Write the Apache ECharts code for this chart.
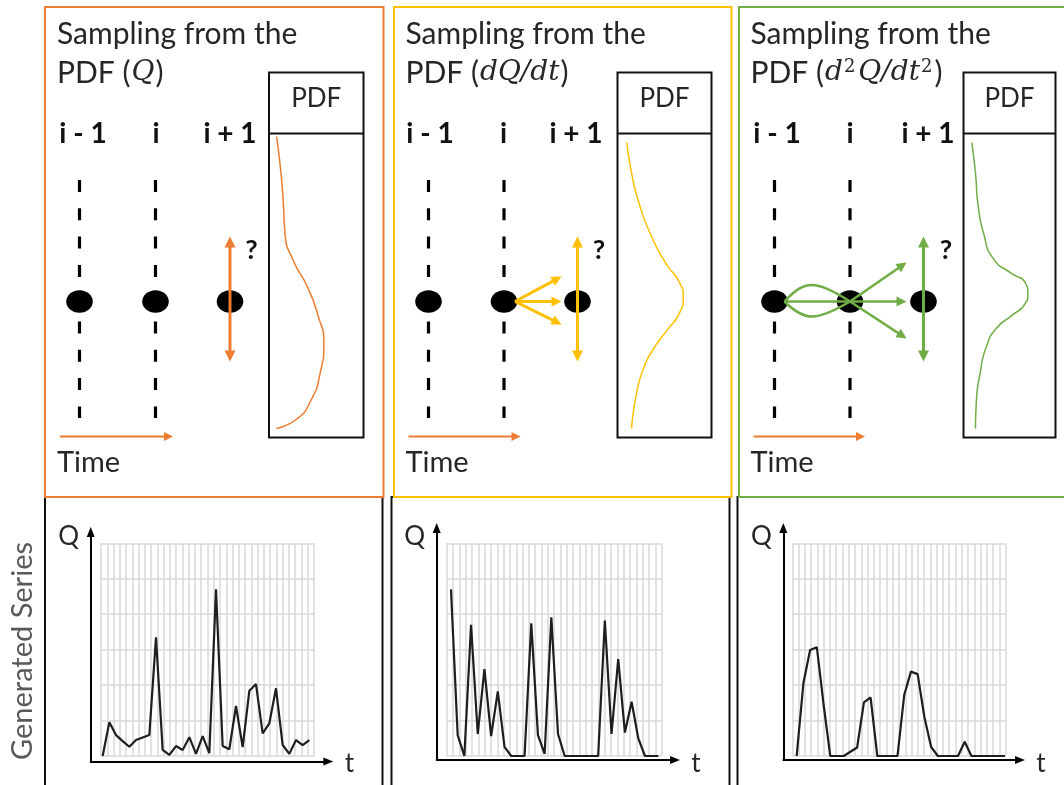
<!DOCTYPE html>
<html>
<head>
<meta charset="utf-8">
<script src="https://cdn.jsdelivr.net/npm/echarts@6/dist/echarts.min.js"></script>
<style>
  html, body { margin: 0; padding: 0; background: #fff; }
  #chart { width: 1064px; height: 785px; }
</style>
</head>
<body>
<div id="chart"></div>
<script>
// ---- Generated series: one value per time step (t = 0 .. 31) ----
const seriesQ   = [0, 9.5, 5.9, 4.2, 2.6, 4.5, 5.2, 5.9, 33.5, 1.7, 0.3, 2.8, 1.7, 5.3, 0.6, 5.6,
                   0.8, 47.0, 2.8, 1.9, 14.1, 2.5, 18.4, 20.3, 6.4, 9.2, 19.1, 3.1, 0.6, 4.5, 3.1, 4.5];
const seriesDQ  = [47.0, 5.9, 0, 37.0, 6.2, 24.5, 5.6, 18.2, 2.6, 0, 0, 0, 37.4, 5.9, 0.6, 39.1,
                   6.2, 0, 0, 0, 0, 0, 0, 38.2, 6.2, 27.3, 6.6, 15.3, 5.0, 0, 0, 0];
const seriesD2Q = [0, 20.5, 29.9, 30.7, 14.6, 0, 0, 0, 1.2, 2.4, 15.1, 16.5, 0, 0, 0, 0,
                   17.2, 23.8, 23.1, 11.0, 2.6, 0, 0, 0, 0, 4.0, 0, 0, 0, 0, 0, 0];

// ---- PDF shapes: density at each Q level (Q: 0 = bottom, 1 = top of the box) ----
const pdfQLevels      = [0.99, 0.89, 0.78, 0.67, 0.58, 0.50, 0.40, 0.31, 0.21, 0.12, 0.06, 0.03];
const pdfQDensity     = [0.08, 0.12, 0.15, 0.17, 0.26, 0.40, 0.52, 0.58, 0.54, 0.44, 0.29, 0.08];
const pdfDQLevels     = [0.97, 0.87, 0.78, 0.67, 0.57, 0.51, 0.46, 0.41, 0.35, 0.29, 0.23, 0.14, 0.03];
const pdfDQDensity    = [0.10, 0.15, 0.22, 0.35, 0.52, 0.66, 0.70, 0.66, 0.52, 0.38, 0.28, 0.20, 0.15];
const pdfD2QLevels    = [0.97, 0.87, 0.76, 0.67, 0.59, 0.54, 0.51, 0.47, 0.44, 0.40, 0.36, 0.30, 0.21, 0.12, 0.03];
const pdfD2QDensity   = [0.09, 0.13, 0.16, 0.22, 0.32, 0.52, 0.67, 0.70, 0.67, 0.52, 0.36, 0.25, 0.18, 0.14, 0.13];

// ---- Text ----
const titleLine1 = 'Sampling from the';
// math part of the second title line, written as rich-text fragments (m = italic, s = superscript)
const titleMath  = ['{m|Q}', '{m|dQ/dt}', '{m|d}{s|2}{m|Q/dt}{s|2}'];
const stepLabels = ['i - 1', 'i', 'i + 1'];
const rowLabel   = 'Generated Series';

// ---- Styling ----
const ORANGE = '#ED7D31', GOLD = '#FFC000', GREEN = '#70AD47';
const INK = '#262626';
const GRID_C = '#D9D9D9';
const FONT = 'Lato, "Open Sans", sans-serif';
const MATH = '"DejaVu Serif", serif';

// top panels layout
const PANELS = [
  { x0: 45,  x1: 383.5, color: ORANGE, titleX: 57,    dash: [79.5, 155.5], next: 230,   ask: 251.5, box: [269, 363.5],   lab: [83, 156, 230],    time: [60, 173],     fan: 0, pdf: [pdfQLevels, pdfQDensity] },
  { x0: 394, x1: 731.5, color: GOLD,   titleX: 405.5, dash: [428.5, 504],  next: 577.5, ask: 599,   box: [617.5, 711.5], lab: [430, 503.5, 576], time: [408.5, 520.5], fan: 1, pdf: [pdfDQLevels, pdfDQDensity] },
  { x0: 739, x1: 1090,  color: GREEN,  titleX: 750.5, dash: [774.5, 850],  next: 923.5, ask: 946,   box: [963.5, 1055.5], lab: [777, 850, 928],  time: [753.5, 865],   fan: 2, pdf: [pdfD2QLevels, pdfD2QDensity] }
];
// bottom charts layout
const CHARTS = [
  { lat: [101, 213],     axisX: 90.7,  axisY: 761.5, tipX: 333.3, tipY: 527, box: [45, 382.5],    data: seriesQ,   range: [-0.25, 31.7] },
  { lat: [446.7, 215],   axisX: 436.7, axisY: 760,   tipX: 680,   tipY: 523, box: [391.5, 729.5], data: seriesDQ,  range: [-0.64, 31.5] },
  { lat: [792.3, 213.4], axisX: 783.3, axisY: 760,   tipX: 1025,  tipY: 523, box: [737.5, 1090],  data: seriesD2Q, range: [-0.65, 31.1] }
];
const LAT_TOP = 543.3, LAT_H = 212.7, LAT_COLS = 34;

// ---- graphic helpers ----
const G = [];
function seg(x1, y1, x2, y2, color, w, z, dash) {
  G.push({ type: 'line', z: z, shape: { x1, y1, x2, y2 },
           style: { stroke: color, lineWidth: w, lineDash: dash || null, fill: 'none' } });
}
function head(tx, ty, ux, uy, len, half, color, z) {
  const px = -uy, py = ux;
  G.push({ type: 'polygon', z: z, shape: { points: [
    [tx, ty],
    [tx - ux * len + px * half, ty - uy * len + py * half],
    [tx - ux * len - px * half, ty - uy * len - py * half]
  ] }, style: { fill: color } });
}
function arrow(x1, y1, x2, y2, color, w, len, half, both, z) {
  const L = Math.hypot(x2 - x1, y2 - y1), ux = (x2 - x1) / L, uy = (y2 - y1) / L;
  const sx = both ? x1 + ux * len * 0.7 : x1, sy = both ? y1 + uy * len * 0.7 : y1;
  seg(sx, sy, x2 - ux * len * 0.7, y2 - uy * len * 0.7, color, w, z);
  head(x2, y2, ux, uy, len, half, color, z);
  if (both) head(x1, y1, -ux, -uy, len, half, color, z);
}
function txt(x, y, style, z, rotation) {
  G.push({ type: 'text', x, y, z: z || 10, rotation: rotation || 0,
           style: Object.assign({ fontFamily: FONT, fill: INK, textAlign: 'left', textVerticalAlign: 'middle' }, style) });
}

// ---- bottom boxes (black) ----
CHARTS.forEach(c => {
  G.push({ type: 'rect', z: 1, shape: { x: c.box[0], y: 497, width: c.box[1] - c.box[0], height: 320 },
           style: { fill: 'none', stroke: '#111', lineWidth: 2 } });
});

// ---- top panels ----
const DOT_Y = 301.5;
PANELS.forEach((p, i) => {
  G.push({ type: 'rect', z: 2, shape: { x: p.x0, y: 7, width: p.x1 - p.x0, height: 490 },
           style: { fill: 'none', stroke: p.color, lineWidth: 2 } });
  // title
  txt(p.titleX, 34, { text: titleLine1, fontSize: 30 });
  txt(p.titleX, 73, {
    text: '{a|PDF (}' + titleMath[i] + '{a|)}',
    rich: {
      a: { fontFamily: FONT, fontSize: 30, fill: INK },
      m: { fontFamily: MATH, fontStyle: 'italic', fontSize: 28, fill: INK, padding: [0, 1, 0, 1] },
      s: { fontFamily: MATH, fontSize: 18, fill: INK, verticalAlign: 'top', padding: [0, 2, 0, 0] }
    }
  });
  // step labels
  stepLabels.forEach((s, k) => txt(p.lab[k], 134, { text: s, fontSize: 28, fontWeight: 'bold', fill: '#111', textAlign: 'center' }));
  // PDF box
  G.push({ type: 'rect', z: 2, shape: { x: p.box[0], y: 72.5, width: p.box[1] - p.box[0], height: 365 },
           style: { fill: 'none', stroke: '#111', lineWidth: 2 } });
  seg(p.box[0], 133.5, p.box[1], 133.5, '#111', 2, 2);
  txt((p.box[0] + p.box[1]) / 2, 99, { text: 'PDF', fontSize: 26, textAlign: 'center' });
  // time lines
  p.dash.forEach(x => seg(x, 180, x, 418, '#000', 3.2, 3, [12, 16.3]));
  [p.dash[0], p.dash[1], p.next].forEach(x =>
    G.push({ type: 'ellipse', z: 4, shape: { cx: x, cy: DOT_Y, rx: 13.3, ry: 11.3 }, style: { fill: '#000' } }));
  // where the next value may land
  arrow(p.next, 236.5, p.next, 361.5, p.color, 3, 11, 5.5, true, 6);
  txt(p.ask, 250, { text: '?', fontSize: 27, fontWeight: 'bold', fill: '#111', textAlign: 'center' });
  // dependence on previous steps
  if (p.fan === 1) {
    const sx = p.dash[1] + 11, ex = p.dash[1] + 57.5;
    [-25, 0, 23].forEach(dy => arrow(sx, DOT_Y, ex, DOT_Y + dy, p.color, 3, 10, 5, false, 6));
  } else if (p.fan === 2) {
    const a = p.dash[0] + 10, b = p.dash[1], ex = p.dash[1] + 56.5;
    arrow(a, DOT_Y, ex, DOT_Y, p.color, 2.5, 10, 5, false, 6);
    G.push({ type: 'bezierCurve', z: 6, shape: { x1: a, y1: DOT_Y, cpx1: a + 20, cpy1: DOT_Y - 22, cpx2: b - 34, cpy2: DOT_Y - 22, x2: b, y2: DOT_Y },
             style: { stroke: p.color, lineWidth: 2.5, fill: 'none' } });
    G.push({ type: 'bezierCurve', z: 6, shape: { x1: a, y1: DOT_Y, cpx1: a + 20, cpy1: DOT_Y + 20, cpx2: b - 34, cpy2: DOT_Y + 20, x2: b, y2: DOT_Y },
             style: { stroke: p.color, lineWidth: 2.5, fill: 'none' } });
    arrow(b, DOT_Y, ex, DOT_Y + 37, p.color, 2.5, 10, 5, false, 6);
    arrow(b, DOT_Y, ex, DOT_Y - 39, p.color, 2.5, 10, 5, false, 6);
  }
  // time direction
  arrow(p.time[0], 436.5, p.time[1], 436.5, ORANGE, 2, 9, 4.5, false, 6);
  txt(p.titleX, 462.5, { text: 'Time', fontSize: 29 });
});

// ---- row label ----
txt(23, 651, { text: rowLabel, fontSize: 29, fill: '#595959', textAlign: 'center' }, 10, Math.PI / 2);

// ---- chart components ----
const grids = [], xAxes = [], yAxes = [], series = [];
const hiddenValue = (gi, min, max) => ({ type: 'value', gridIndex: gi, min, max, show: false });

CHARTS.forEach(c => {
  // lattice + series
  const gi = grids.length;
  grids.push({ left: c.lat[0], top: LAT_TOP, width: c.lat[1], height: LAT_H });
  xAxes.push({ type: 'value', gridIndex: gi, min: 0, max: LAT_COLS, interval: 1,
               axisLine: { show: false }, axisTick: { show: false }, axisLabel: { show: false },
               splitLine: { show: true, lineStyle: { color: GRID_C, width: 1.5 } } });
  const dx = xAxes.length;
  xAxes.push(hiddenValue(gi, c.range[0], c.range[1]));
  const yi = yAxes.length;
  yAxes.push({ type: 'value', gridIndex: gi, min: 0, max: 60, interval: 10,
               axisLine: { show: false }, axisTick: { show: false }, axisLabel: { show: false },
               splitLine: { show: true, lineStyle: { color: GRID_C, width: 1.5 } } });
  series.push({ type: 'line', xAxisIndex: dx, yAxisIndex: yi, data: c.data.map((v, t) => [t, v]),
                showSymbol: false, silent: true, z: 5, lineStyle: { color: '#1e1e1e', width: 2.2 } });

  // Q / t axes with arrow heads
  const fi = grids.length;
  grids.push({ left: c.axisX, top: c.tipY + 5, width: c.tipX - 5 - c.axisX, height: c.axisY - c.tipY - 5 });
  const axisFrame = {
    min: 0, max: 1, gridIndex: fi, type: 'value',
    axisLine: { show: true, onZero: false, symbol: ['none', 'triangle'], symbolSize: [8, 10],
                lineStyle: { color: '#000', width: 2 } },
    axisTick: { show: false }, axisLabel: { show: false }, splitLine: { show: false }
  };
  xAxes.push(Object.assign({}, axisFrame));
  yAxes.push(Object.assign({}, axisFrame));
  txt(c.axisX - 22, 536.5, { text: 'Q', fontSize: 26, fill: INK, textAlign: 'center' });
  txt(c.tipX + 16, 764, { text: 't', fontSize: 26, fill: INK, textAlign: 'center' });
});

PANELS.forEach(p => {
  const gi = grids.length;
  grids.push({ left: p.box[0], top: 133.5, width: p.box[1] - p.box[0], height: 304 });
  const xi = xAxes.length, yi = yAxes.length;
  xAxes.push(hiddenValue(gi, 0, 1));
  yAxes.push(hiddenValue(gi, 0, 1));
  const [levels, dens] = p.pdf;
  series.push({ type: 'line', xAxisIndex: xi, yAxisIndex: yi, data: levels.map((q, k) => [dens[k], q]),
                smooth: 0.6, showSymbol: false, silent: true, z: 5,
                lineStyle: { color: p.color, width: 1.5 } });
});

const chart = echarts.init(document.getElementById('chart'), null, { renderer: 'canvas' });
chart.setOption({
  animation: false,
  backgroundColor: '#ffffff',
  grid: grids,
  xAxis: xAxes,
  yAxis: yAxes,
  series: series,
  graphic: { elements: G }
});
</script>
</body>
</html>
